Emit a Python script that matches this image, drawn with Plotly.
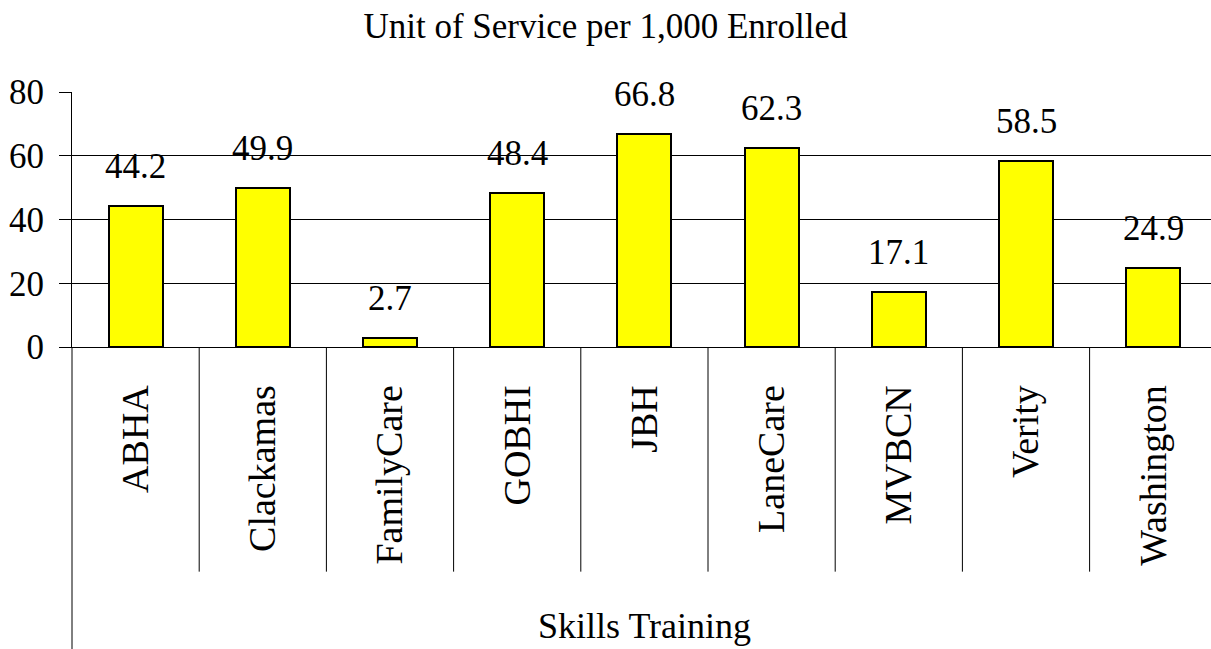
import plotly.graph_objects as go

categories = ["ABHA", "Clackamas", "FamilyCare", "GOBHI", "JBH", "LaneCare", "MVBCN", "Verity", "Washington"]
values = [44.2, 49.9, 2.7, 48.4, 66.8, 62.3, 17.1, 58.5, 24.9]
value_labels = ["44.2", "49.9", "2.7", "48.4", "66.8", "62.3", "17.1", "58.5", "24.9"]
y_ticks = [0, 20, 40, 60, 80]
title_text = "Unit of Service per 1,000 Enrolled"
group_label = "Skills Training"

FONT = "Liberation Serif"

fig = go.Figure()
fig.add_trace(go.Bar(
    x=list(range(len(categories))),
    y=values,
    width=0.425,
    marker=dict(color="#FFFF00", line=dict(color="black", width=2)),
    hoverinfo="skip",
))

annotations = []
for i, (v, t) in enumerate(zip(values, value_labels)):
    annotations.append(dict(x=i, y=v, xref="x", yref="y", text=t, showarrow=False,
                            yanchor="bottom", yshift=18,
                            font=dict(family=FONT, size=35, color="black")))
annotations.append(dict(x=(len(categories) - 1) / 2, y=-1.093, xref="x", yref="paper",
                        text=group_label, showarrow=False, yanchor="middle",
                        font=dict(family=FONT, size=36, color="black")))

shapes = []
for i in range(len(categories) - 1):
    shapes.append(dict(type="line", xref="x", yref="paper", x0=i + 0.5, x1=i + 0.5,
                       y0=0, y1=-0.881, line=dict(color="black", width=1)))
shapes.append(dict(type="line", xref="paper", yref="paper", x0=0, x1=0,
                   y0=0, y1=-1.185, line=dict(color="black", width=1)))

fig.update_layout(
    width=1211, height=649,
    margin=dict(l=72, r=0, t=92, b=302, autoexpand=False),
    paper_bgcolor="white", plot_bgcolor="white",
    showlegend=False,
    title=dict(text=title_text, x=0.5, xref="container", xanchor="center",
               y=0.96, yref="container", yanchor="middle",
               font=dict(family=FONT, size=35, color="black")),
    xaxis=dict(range=[-0.5, -0.5 + 1139 / 127.2], tickmode="array",
               tickvals=list(range(len(categories))), ticktext=categories,
               tickangle=-90, showgrid=False, showline=True, linecolor="black",
               linewidth=1, ticks="", ticklabelstandoff=22, automargin=False,
               tickfont=dict(family=FONT, size=38, color="black")),
    yaxis=dict(range=[0, 80], tickmode="array", tickvals=y_ticks,
               showgrid=True, gridcolor="black", gridwidth=1,
               zeroline=False, showline=True, linecolor="black", linewidth=1,
               ticks="outside", ticklen=12, tickcolor="black", ticklabelstandoff=8,
               automargin=False,
               tickfont=dict(family=FONT, size=35, color="black")),
    annotations=annotations,
    shapes=shapes,
    bargap=0,
)

fig.write_html("out.html", config={"displayModeBar": False},
               post_script="document.body.style.margin='0';")
